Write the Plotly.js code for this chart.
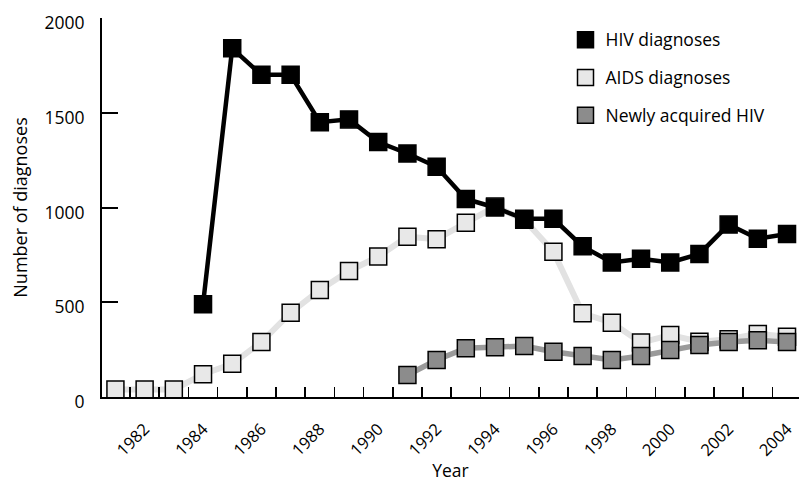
<!DOCTYPE html>
<html>
<head>
<meta charset="utf-8">
<script src="https://cdn.plot.ly/plotly-3.0.1.min.js"></script>
<style>
  body { margin: 0; background: #fff; }
  #chart { width: 799px; height: 482px; }
</style>
</head>
<body>
<div id="chart"></div>
<script>
const years = [1981, 1982, 1983, 1984, 1985, 1986, 1987, 1988, 1989, 1990, 1991, 1992,
  1993, 1994, 1995, 1996, 1997, 1998, 1999, 2000, 2001, 2002, 2003, 2004];

// HIV diagnoses start in 1984, newly acquired HIV in 1991
const hivYears = years.slice(3);
const hivDiagnoses = [490, 1840, 1700, 1700, 1450, 1465, 1345, 1285, 1215, 1045, 1000,
  940, 940, 795, 710, 730, 710, 755, 910, 835, 860];

const aidsDiagnoses = [40, 40, 40, 120, 175, 290, 445, 565, 665, 741, 846, 833,
  920, 1005, 935, 767, 442, 392, 287, 327, 292, 305, 333, 318];

const newlyYears = years.slice(10);
const newlyAcquired = [116, 195, 257, 262, 269, 239, 216, 195, 216, 248, 275, 290, 300, 290];

const tickYears = [1982, 1984, 1986, 1988, 1990, 1992, 1994, 1996, 1998, 2000, 2002, 2004];
const tickText = tickYears.map(String);
const yTicks = [0, 500, 1000, 1500, 2000];

// small ticks sit between the years
const betweenYears = years.slice(0, -1).map(y => y + 0.5);

const font = 'Open Sans, Arial, sans-serif';

function series(name, xs, ys, lineColor, lineWidth, fill, border, rank) {
  const line = {
    x: xs, y: ys, mode: 'lines', type: 'scatter',
    line: { color: lineColor, width: lineWidth },
    showlegend: false, hoverinfo: 'skip'
  };
  const marks = {
    x: xs, y: ys, mode: 'markers', type: 'scatter', name: name,
    marker: { symbol: 'square', size: 17, color: fill, line: { color: border, width: 1.5 } },
    legendgroup: name, legendrank: rank
  };
  return [line, marks];
}

const data = [
  ...series('AIDS diagnoses', years, aidsDiagnoses, '#e2e2e2', 6, '#e8e8e8', '#000', 2),
  ...series('Newly acquired HIV', newlyYears, newlyAcquired, '#9a9a9a', 5.5, '#8c8c8c', '#000', 3),
  ...series('HIV diagnoses', hivYears, hivDiagnoses, '#000', 4.5, '#000', '#000', 1)
];

const layout = {
  width: 799,
  height: 482,
  margin: { l: 102, r: 0, t: 18, b: 85 },
  paper_bgcolor: '#fff',
  // transparent so the inside ticks are not covered
  plot_bgcolor: 'rgba(0,0,0,0)',
  font: { family: font, size: 16, color: '#000' },
  xaxis: {
    type: 'linear',
    range: [1980.54, 2004.41],
    showgrid: false, zeroline: false,
    showline: true, linecolor: '#000', linewidth: 2,
    tickmode: 'array', tickvals: tickYears, ticktext: tickText,
    ticks: '', tickangle: -45, ticklabelstandoff: 14,
    tickfont: { family: font, size: 16.5 },
    minor: { tickmode: 'array', tickvals: betweenYears, ticks: 'inside', ticklen: 10, tickwidth: 1.5, tickcolor: '#000', showgrid: false },
    title: { text: 'Year', font: { family: font, size: 17.5 }, standoff: 15 }
  },
  yaxis: {
    range: [0, 2000],
    showgrid: false, zeroline: false,
    showline: true, linecolor: '#000', linewidth: 2,
    tickmode: 'array', tickvals: yTicks,
    ticks: 'inside', ticklen: 16, tickwidth: 2, tickcolor: '#000',
    ticklabelstandoff: 12, ticklabelshift: 5,
    tickfont: { family: font, size: 17.5 },
    title: { text: 'Number of diagnoses', font: { family: font, size: 18 }, standoff: 12 }
  },
  showlegend: true,
  legend: {
    x: 0.665, y: 0.99, xanchor: 'left', yanchor: 'top',
    traceorder: 'grouped', tracegroupgap: 12,
    bgcolor: 'rgba(0,0,0,0)',
    font: { family: font, size: 17.5 }
  }
};

Plotly.newPlot('chart', data, layout, { displayModeBar: false, staticPlot: true });
</script>
</body>
</html>
